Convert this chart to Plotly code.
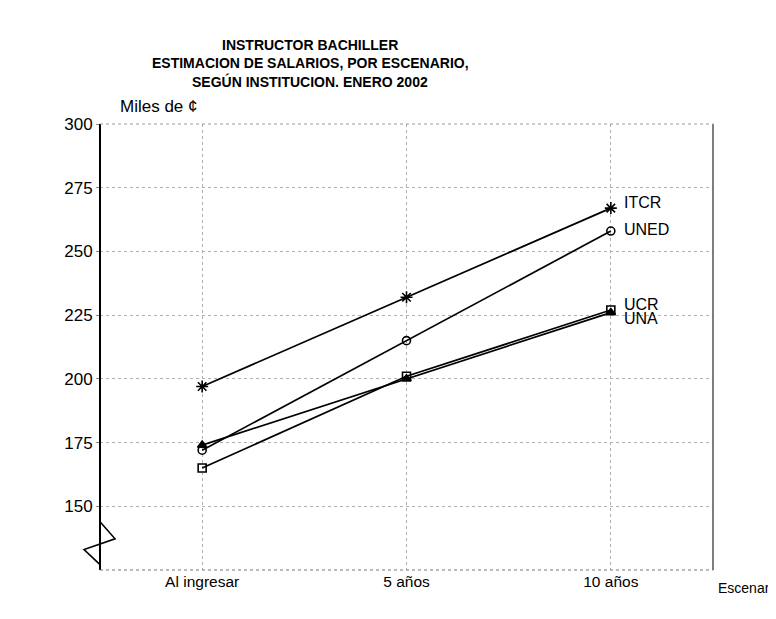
import plotly.graph_objects as go

categories = ["Al ingresar", "5 años", "10 años"]
itcr = [197, 232, 267]
uned = [172, 215, 258]
ucr = [165, 201, 227]
una = [174, 200, 226]
y_ticks = [150, 175, 200, 225, 250, 275, 300]

series = [
    ("ITCR", itcr, "asterisk-open", 10, "black"),
    ("UNED", uned, "circle-open", 8, "black"),
    ("UCR", ucr, "square-open", 8, "black"),
    ("UNA", una, "triangle-up", 8, "black"),
]

fig = go.Figure()
for name, vals, sym, size, col in series:
    fig.add_trace(go.Scatter(
        x=categories, y=vals, name=name, mode="lines+markers",
        line=dict(color="black", width=1.7),
        marker=dict(symbol=sym, size=size, color=col,
                    line=dict(color="black", width=1.6)),
        showlegend=False,
    ))

# series labels at right end
label_shift = {"ITCR": 6, "UNED": 2, "UCR": 6, "UNA": -6}
lab_font = dict(family="Arial, Liberation Sans", size=16, color="black")
for name, vals, sym, size, col in series:
    fig.add_annotation(x=categories[-1], y=vals[-1], text=name, showarrow=False,
                       xanchor="left", xshift=11, yshift=label_shift[name],
                       font=lab_font)

font = dict(family="Arial, Liberation Sans", size=15, color="black")
fig.update_layout(
    width=776, height=619,
    margin=dict(l=92, r=71, t=116, b=57),
    paper_bgcolor="white", plot_bgcolor="white",
    font=font,
    xaxis=dict(type="category", range=[-0.5, 2.5], showgrid=True,
               gridcolor="#b0b0b0", griddash="dot", gridwidth=1,
               showline=False, ticks="", zeroline=False,
               tickfont=dict(family="Arial, Liberation Sans", size=15.5, color="black")),
    yaxis=dict(range=[125, 300], tickvals=y_ticks, showgrid=True,
               gridcolor="#b0b0b0", griddash="dot", gridwidth=1,
               showline=False, ticks="outside", ticklen=3, tickcolor="#888",
               tickfont=dict(family="Arial, Liberation Sans", size=17, color="black"),
               zeroline=False),
)

# plot frame
fig.add_shape(type="line", xref="paper", yref="paper", x0=0, x1=0, y0=0, y1=1,
              line=dict(color="black", width=2))
fig.add_shape(type="line", xref="paper", yref="paper", x0=1, x1=1, y0=0, y1=1,
              line=dict(color="#555", width=1.5))
fig.add_shape(type="line", xref="paper", yref="paper", x0=0, x1=1, y0=1, y1=1,
              line=dict(color="#999", width=1, dash="dot"))
fig.add_shape(type="line", xref="paper", yref="paper", x0=0, x1=1, y0=0, y1=0,
              line=dict(color="#777", width=1, dash="dot"))
# axis break zigzag
fig.add_shape(type="path", xref="paper", yref="paper",
              path="M 0,0.108 L 0.0245,0.07 L -0.026,0.046 L 0,0.012",
              line=dict(color="black", width=1.6))

# titles
title_lines = ["INSTRUCTOR BACHILLER",
               "ESTIMACION DE SALARIOS, POR ESCENARIO,",
               "SEGÚN INSTITUCION. ENERO 2002"]
for i, t in enumerate(title_lines):
    fig.add_annotation(text="<b>" + t + "</b>", xref="paper", yref="paper",
                       x=(310 - 100) / 613, y=1 + (122 - (43 + 18 * i)) / 446,
                       showarrow=False, xanchor="center", yanchor="middle",
                       font=dict(family="Arial, Liberation Sans", size=14, color="black"))
fig.add_annotation(text="Miles de ¢", xref="paper", yref="paper",
                   x=(118 - 100) / 613, y=1 + (122 - 104) / 446,
                   showarrow=False, xanchor="left", yanchor="middle",
                   font=dict(family="Arial, Liberation Sans", size=17, color="black"))
fig.add_annotation(text="Escenario", xref="paper", yref="paper",
                   x=1 + (716 - 713) / 613, y=-(586 - 568) / 446,
                   showarrow=False, xanchor="left", yanchor="middle",
                   font=dict(family="Arial, Liberation Sans", size=14, color="black"))

fig.write_html("out.html")
